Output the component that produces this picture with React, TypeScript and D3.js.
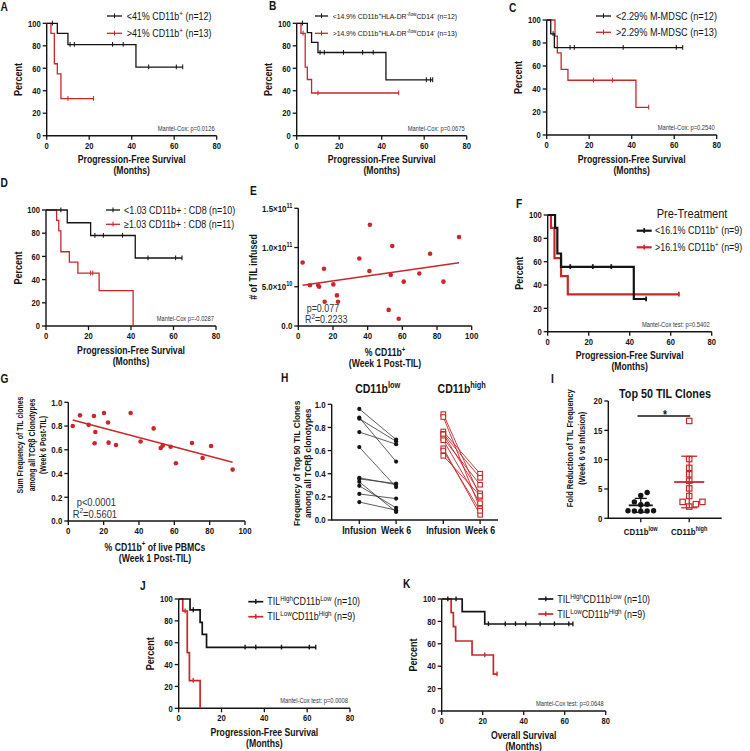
import React from 'react';
import * as d3 from 'd3';

const FONT = "'Liberation Sans', Arial, Helvetica, sans-serif";
const RED = '#c8282c';
const INK = '#141414';
const GREY = '#333';
const SX = 0.85; // the figure uses a narrow sans, squeeze text along its baseline

// ---------- Kaplan-Meier data: step times (months), survival (%), censor marks ----------
const kmXTicks = [0, 20, 40, 60, 80];
const kmYTicks = [0, 20, 40, 60, 80, 100];

const aLowT = [0, 5, 10, 42, 64];
const aLowS = [100, 91, 81, 61, 61];
const aLowC = [2.7, 11, 13, 31, 36, 48, 61, 64];
const aHighT = [0, 2, 3.6, 5, 6.7, 22];
const aHighS = [100, 91, 64, 55, 33, 33];
const aHighC = [10, 22];
const aLegend = ['<41% CD11b^{+} (n=12)', '>41% CD11b^{+} (n=13)'];
const aP = 'Mantel-Cox: p=0.0126';

const bLowT = [0, 5, 7, 10, 42, 64];
const bLowS = [100, 91.7, 83, 74, 49.6, 49.6];
const bLowC = [2.7, 11, 13, 22, 31, 36, 61, 63, 64];
const bHighT = [0, 2, 4, 5, 7, 48];
const bHighS = [100, 91, 61, 50, 38, 38];
const bHighC = [3, 10, 48];
const bLegend = ['<14.9% CD11b^{+}HLA-DR^{-/low}CD14^{-} (n=12)', '>14.9% CD11b^{+}HLA-DR^{-/low}CD14^{-} (n=13)'];
const bP = 'Mantel-Cox: p=0.0675';

const cLowT = [0, 1.9, 3.6, 64];
const cLowS = [100, 88, 76, 76];
const cLowC = [3, 11, 13, 36, 61, 64];
const cHighT = [0, 3.9, 5, 6.8, 10, 42, 48];
const cHighS = [100, 86, 71.5, 57, 47.6, 24, 24];
const cHighC = [22, 31, 48];
const cLegend = ['<2.29% M-MDSC (n=12)', '>2.29% M-MDSC (n=13)'];
const cP = 'Mantel-Cox: p=0.2540';

const dLowT = [0, 10, 21, 42, 64];
const dLowS = [100, 89, 78, 58.6, 58.6];
const dLowC = [7, 23, 27, 36, 48, 61, 64];
const dHighT = [0, 5, 6, 7, 11, 15, 25, 41];
const dHighS = [100, 91, 82, 64, 55, 45.5, 30.5, 0];
const dHighC = [21, 22];
const dLegend = ['<1.03 CD11b+ : CD8 (n=10)', '\u22651.03 CD11b+ : CD8 (n=11)'];
const dP = 'Mantel-Cox p=-0.0287';

const fLowT = [0, 3.6, 4.7, 6.5, 42, 48];
const fLowS = [100, 89, 67, 55.6, 28, 28];
const fLowC = [11, 22, 31, 48];
const fHighT = [0, 1.6, 3.3, 6.5, 9.8, 64];
const fHighS = [100, 89, 63, 47.7, 32, 32];
const fHighC = [64];
const fLegend = ['<16.1% CD11b^{+} (n=9)', '>16.1% CD11b^{+} (n=9)'];
const fP = 'Mantel-Cox test: p=0.5402';

const jLowT = [0, 5.3, 10, 11, 13, 64];
const jLowS = [100, 90, 78.7, 67.7, 55.8, 55.8];
const jLowC = [6.8, 31, 36, 48, 61, 64];
const jHighT = [0, 1.9, 4, 5, 10];
const jHighS = [100, 89, 51, 25.3, 0];
const jHighC = [3, 6.8];
const jkLegend = ['TIL^{High}CD11b^{Low} (n=10)', 'TIL^{Low}CD11b^{High} (n=9)'];
const jP = 'Mantel-Cox test: p=0.0008';

const kLowT = [0, 10, 21, 64];
const kLowS = [100, 88.7, 77.7, 77.7];
const kLowC = [3, 7, 22.8, 31, 36, 41, 48, 55, 62, 64];
const kHighT = [0, 4.6, 5.7, 6.8, 14.8, 25.2, 27];
const kHighS = [100, 87.8, 75.3, 62.5, 50, 33, 33];
const kHighC = [21, 27];
const kP = 'Mantel-Cox test: p=0.0648';

// ---------- E: TIL infused vs % CD11b+ ----------
const eX = [2.5, 6.7, 11.5, 12, 14.8, 15.2, 20.2, 22.3, 22.9, 35.2, 41.3, 41, 52.1, 53.3, 54.2, 57.9, 60.8, 69.8, 76, 83.7, 92.7];
const eY = [8.1, 5.2, 5.2, 5.0, 7.3, 3.1, 5.3, 3.9, 3.1, 8.6, 12.9, 7.0, 2.05, 6.5, 10.2, 0.93, 5.65, 6.7, 9.2, 5.65, 11.35]; // x10^10
const eYTicks = [0, 5, 10, 15];
const eYLabels = ['0.0', '5.0\u00d710^{10}', '1.0\u00d710^{11}', '1.5\u00d710^{11}'];
const eFitA = 5.12;
const eFitB = 0.0316;
const eStats = ['p=0.077', 'R^{2}=0.2233'];

// ---------- G: sum frequency vs % CD11b+ ----------
const gX = [2.5, 6.6, 11.5, 14.5, 15.3, 14.9, 20.2, 22.5, 22.8, 27, 35.3, 40.9, 48.3, 52.3, 53.4, 57.9, 60.9, 70, 76, 80.8, 93];
const gY = [0.8, 0.89, 0.81, 0.885, 0.75, 0.655, 0.91, 0.83, 0.66, 0.64, 0.91, 0.67, 0.78, 0.615, 0.635, 0.625, 0.486, 0.657, 0.531, 0.632, 0.433];
const gYTicks = [0, 0.2, 0.4, 0.6, 0.8, 1.0];
const gFitA = 0.861;
const gFitB = -0.00393;
const gStats = ['p<0.0001', 'R^{2}=0.5601'];
const sXTicks = [0, 20, 40, 60, 80, 100];

// ---------- H: top 50 clone frequency, infusion -> week 6 ----------
const hGroups = ['CD11b^{low}', 'CD11b^{high}'];
const hTimes = ['Infusion', 'Week 6'];
const hLowInf = [0.96, 0.885, 0.875, 0.76, 0.63, 0.365, 0.355, 0.33, 0.295, 0.225, 0.155];
const hLowW6 = [0.695, 0.505, 0.68, 0.655, 0.285, 0.305, 0.315, 0.07, 0.105, 0.185, 0.085];
const hHighInf = [0.915, 0.89, 0.765, 0.745, 0.74, 0.705, 0.69, 0.62, 0.6, 0.555];
const hHighW6 = [0.2, 0.1, 0.4, 0.365, 0.23, 0.305, 0.145, 0.045, 0.08, 0.21];

// ---------- I: fold reduction ----------
const iLow = [4.4, 3.9, 2.8, 2.4, 2.3, 1.3, 1.25, 1.2, 1.25, 1.3];
const iHigh = [16.6, 10.1, 8.6, 7.5, 6.4, 5.1, 3.8, 2.8, 2.8, 2.0, 2.4];
const iYTicks = [0, 5, 10, 15, 20];

// ---------- helpers ----------
function rich(s: string, size: number) {
  const parts = s.split(/(\^\{[^}]*\})/).filter(p => p !== '');
  let up = false;
  return parts.map((p, i) => {
    if (p.startsWith('^{')) {
      const el = <tspan key={i} fontSize={size * 0.7} dy={-size * 0.4}>{p.slice(2, -1)}</tspan>;
      up = true;
      return el;
    }
    const el = <tspan key={i} dy={up ? size * 0.4 : 0}>{p}</tspan>;
    up = false;
    return el;
  });
}

function T({ x, y, s, size, bold = false, anchor = 'start', rot = 0, fill = INK }: any) {
  return (
    <text
      transform={`translate(${x},${y})${rot ? ` rotate(${rot})` : ''} scale(${SX},1)`}
      fontSize={size}
      fontWeight={bold ? 700 : 400}
      textAnchor={anchor}
      fill={fill}
      fontFamily={FONT}
    >
      {rich(String(s), size)}
    </text>
  );
}

// left + bottom axis, Prism style
function Frame({ x, y, x0, x1, yT, yB, xTicks, yTicks, xFmt, yFmt, size = 9, xTickY }: any) {
  return (
    <g>
      <line x1={x0} x2={x0} y1={yT} y2={yB} stroke={INK} strokeWidth={1.4} />
      <line x1={x0 - 0.7} x2={x1} y1={yB} y2={yB} stroke={INK} strokeWidth={1.4} />
      {yTicks.map((v: number, i: number) => (
        <g key={'y' + i}>
          <line x1={x0 - 4} x2={x0} y1={y(v)} y2={y(v)} stroke={INK} strokeWidth={1.3} />
          <T x={x0 - 6} y={y(v) + size * 0.36} s={yFmt(v, i)} size={size} bold anchor="end" />
        </g>
      ))}
      {xTicks.map((v: any, i: number) => (
        <g key={'x' + i}>
          <line x1={x(v)} x2={x(v)} y1={yB} y2={yB + 4} stroke={INK} strokeWidth={1.3} />
          {xFmt && <T x={x(v)} y={xTickY ?? yB + 4 + size} s={xFmt(v, i)} size={size} bold anchor="middle" />}
        </g>
      ))}
    </g>
  );
}

function survAt(t: number[], s: number[], tc: number) {
  let v = s[0];
  t.forEach((ti, i) => { if (ti <= tc) v = s[i]; });
  return v;
}

function KM({ box, curves, sw, leg, labels, p, xTitle = 'Progression-Free Survival', letter }: any) {
  const [x0, x1, yT, yB] = box;
  const x = d3.scaleLinear().domain([0, 80]).range([x0, x1]);
  const y = d3.scaleLinear().domain([0, 100]).range([yB, yT]);
  const line = d3.line<number[]>().x(d => x(d[0])).y(d => y(d[1])).curve(d3.curveStepAfter);
  const tw = Math.max(1, sw * 0.8);
  return (
    <g>
      <Frame x={x} y={y} x0={x0} x1={x1} yT={yT} yB={yB} xTicks={kmXTicks} yTicks={kmYTicks} xFmt={(v: number) => v} yFmt={(v: number) => v} />
      {[...curves].reverse().map((c: any, i: number) => (
        <g key={i}>
          <path d={line(c.t.map((t: number, j: number) => [t, c.s[j]])) as string} fill="none" stroke={c.color} strokeWidth={sw} />
          {c.c.map((tc: number, j: number) => {
            const v = survAt(c.t, c.s, tc);
            return <line key={j} x1={x(tc)} x2={x(tc)} y1={y(v) - 2.6} y2={y(v) + 2.2} stroke={c.color} strokeWidth={tw} />;
          })}
        </g>
      ))}
      {labels.map((lab: string, i: number) => {
        const ly = leg.ys[i];
        const col = curves[i].color;
        return (
          <g key={'l' + i}>
            <line x1={leg.x1} x2={leg.x2} y1={ly} y2={ly} stroke={col} strokeWidth={sw} />
            <line x1={(leg.x1 + leg.x2) / 2} x2={(leg.x1 + leg.x2) / 2} y1={ly - 2.6} y2={ly + 2.2} stroke={col} strokeWidth={tw} />
            <T x={leg.tx} y={ly + leg.size * 0.36} s={lab} size={leg.size} />
          </g>
        );
      })}
      <T x={x1 - 2} y={yB - 5} s={p} size={6.8} anchor="end" fill={GREY} />
      <T x={(x0 + x1) / 2} y={yB + 27.6} s={xTitle} size={10.2} bold anchor="middle" />
      <T x={(x0 + x1) / 2} y={yB + 38.6} s="(Months)" size={10.2} bold anchor="middle" />
      <T x={x0 - 24.5} y={(yT + yB) / 2} s="Percent" size={10.6} bold anchor="middle" rot={-90} />
      <T x={letter[0]} y={letter[1]} s={letter[2]} size={12} bold />
    </g>
  );
}

function Scatter({ box, xs, ys, yMax, yTicks, yFmt, fitA, fitB, stats, statY, statX, statSize, letter, children }: any) {
  const [x0, x1, yT, yB] = box;
  const x = d3.scaleLinear().domain([0, 100]).range([x0, x1]);
  const y = d3.scaleLinear().domain([0, yMax]).range([yB, yT]);
  const [lo, hi] = d3.extent(xs) as [number, number];
  return (
    <g>
      <Frame x={x} y={y} x0={x0} x1={x1} yT={yT} yB={yB} xTicks={sXTicks} yTicks={yTicks} xFmt={(v: number) => v} yFmt={yFmt} size={9.3} />
      <line x1={x(lo)} x2={x(hi)} y1={y(fitA + fitB * lo)} y2={y(fitA + fitB * hi)} stroke={RED} strokeWidth={1.5} />
      {xs.map((v: number, i: number) => (
        <circle key={i} cx={x(v)} cy={y(ys[i])} r={2.3} fill={RED} />
      ))}
      <T x={x0 + statX[0]} y={statY[0]} s={stats[0]} size={statSize} fill={GREY} />
      <T x={x0 + statX[1]} y={statY[1]} s={stats[1]} size={statSize} fill={GREY} />
      <T x={letter[0]} y={letter[1]} s={letter[2]} size={12} bold />
      {children}
    </g>
  );
}

function PanelH() {
  const x0 = 331.7, xEnd = 498, yT = 404.3, yB = 520;
  const y = d3.scaleLinear().domain([0, 1]).range([yB, yT]);
  const grp = d3.scaleBand().domain(hGroups).range([335.7, 503.7]);
  const tp = d3.scalePoint().domain(hTimes).range([-18.4, 18.4]);
  const cx = (g: string, t: string) => (grp(g) as number) + grp.bandwidth() / 2 + (tp(t) as number);
  const ticks = hGroups.flatMap(g => hTimes.map(t => ({ g, t })));
  const sq = 4.6;
  return (
    <g>
      <line x1={x0} x2={x0} y1={yT} y2={yB} stroke={INK} strokeWidth={1.4} />
      <line x1={x0 - 0.7} x2={xEnd} y1={yB} y2={yB} stroke={INK} strokeWidth={1.4} />
      {gYTicks.map((v, i) => (
        <g key={i}>
          <line x1={x0 - 4} x2={x0} y1={y(v)} y2={y(v)} stroke={INK} strokeWidth={1.3} />
          <T x={x0 - 6} y={y(v) + 3.3} s={v.toFixed(1)} size={9.3} bold anchor="end" />
        </g>
      ))}
      {ticks.map((d, i) => (
        <g key={i}>
          <line x1={cx(d.g, d.t)} x2={cx(d.g, d.t)} y1={yB} y2={yB + 4} stroke={INK} strokeWidth={1.3} />
          <T x={cx(d.g, d.t)} y={yB + 14} s={d.t} size={10.4} bold anchor="middle" />
        </g>
      ))}
      {hGroups.map((g, i) => (
        <T key={i} x={(grp(g) as number) + grp.bandwidth() / 2} y={393} s={g} size={12.4} bold anchor="middle" />
      ))}
      {hLowInf.map((v, i) => (
        <line key={'lb' + i} x1={cx(hGroups[0], hTimes[0])} x2={cx(hGroups[0], hTimes[1])} y1={y(v)} y2={y(hLowW6[i])} stroke="#333" strokeWidth={0.8} />
      ))}
      {hLowInf.map((v, i) => (
        <g key={'pb' + i}>
          <circle cx={cx(hGroups[0], hTimes[0])} cy={y(v)} r={2.1} fill={INK} />
          <circle cx={cx(hGroups[0], hTimes[1])} cy={y(hLowW6[i])} r={2.1} fill={INK} />
        </g>
      ))}
      {hHighInf.map((v, i) => (
        <line key={'lr' + i} x1={cx(hGroups[1], hTimes[0])} x2={cx(hGroups[1], hTimes[1])} y1={y(v)} y2={y(hHighW6[i])} stroke={RED} strokeWidth={0.9} />
      ))}
      {hHighInf.map((v, i) => (
        <g key={'pr' + i}>
          <rect x={cx(hGroups[1], hTimes[0]) - sq / 2} y={y(v) - sq / 2} width={sq} height={sq} fill="white" stroke={RED} strokeWidth={1.1} />
          <rect x={cx(hGroups[1], hTimes[1]) - sq / 2} y={y(hHighW6[i]) - sq / 2} width={sq} height={sq} fill="white" stroke={RED} strokeWidth={1.1} />
        </g>
      ))}
      <T x={299.7} y={463.3} s="Frequency of Top 50 TIL Clones" size={9.8} bold anchor="middle" rot={-90} />
      <T x={311.3} y={463.3} s={'among all TCR\u03b2 clonotypes'} size={9.8} bold anchor="middle" rot={-90} />
      <T x={281} y={382} s="H" size={12} bold />
    </g>
  );
}

function swarm(vals: number[], y: (v: number) => number, cx: number, d: number) {
  const order = d3.range(vals.length).sort((a, b) => vals[a] - vals[b]);
  const placed: number[][] = [];
  const out: number[][] = new Array(vals.length);
  order.forEach(i => {
    const py = y(vals[i]);
    for (let k = 0; k < 40; k++) {
      const px = cx + Math.ceil(k / 2) * d * (k % 2 ? 1 : -1);
      if (placed.every(p => (p[0] - px) ** 2 + (p[1] - py) ** 2 >= d * d * 0.92)) {
        placed.push([px, py]);
        out[i] = [px, py];
        break;
      }
    }
  });
  return out;
}

function PanelI() {
  const x0 = 608.3, xEnd = 721.7, yT = 401, yB = 518.3;
  const y = d3.scaleLinear().domain([0, 20]).range([yB, yT]);
  const x = d3.scalePoint().domain(hGroups).range([x0, xEnd]).padding(0.67);
  const cL = x(hGroups[0]) as number;
  const cH = x(hGroups[1]) as number;
  const pL = swarm(iLow, y, cL, 6.4);
  const pH = swarm(iHigh, y, cH, 6.6);
  const stats = [
    { c: cL, m: d3.mean(iLow) as number, sd: d3.deviation(iLow) as number, col: INK, w: 12, cap: 6 },
    { c: cH, m: d3.mean(iHigh) as number, sd: d3.deviation(iHigh) as number, col: RED, w: 15, cap: 8 },
  ];
  const sq = 5.4;
  return (
    <g>
      <Frame x={x} y={y} x0={x0} x1={xEnd} yT={yT} yB={yB} xTicks={hGroups} yTicks={iYTicks} xFmt={(v: string) => v} yFmt={(v: number) => v} size={9.3} xTickY={yB + 16.5} />
      {stats.map((s, i) => (
        <g key={i} stroke={s.col} strokeWidth={1.3}>
          <line x1={s.c} x2={s.c} y1={y(s.m - s.sd)} y2={y(s.m + s.sd)} />
          <line x1={s.c - s.cap} x2={s.c + s.cap} y1={y(s.m + s.sd)} y2={y(s.m + s.sd)} />
          <line x1={s.c - s.cap} x2={s.c + s.cap} y1={y(s.m - s.sd)} y2={y(s.m - s.sd)} />
        </g>
      ))}
      {pL.map((p, i) => <circle key={'b' + i} cx={p[0]} cy={p[1]} r={2.7} fill={INK} />)}
      {pH.map((p, i) => (
        <rect key={'r' + i} x={p[0] - sq / 2} y={p[1] - sq / 2} width={sq} height={sq} fill="none" stroke={RED} strokeWidth={1.2} />
      ))}
      {stats.map((s, i) => (
        <line key={'m' + i} x1={s.c - s.w} x2={s.c + s.w} y1={y(s.m)} y2={y(s.m)} stroke={s.col} strokeWidth={1.8} />
      ))}
      <line x1={cL - 3.3} x2={cH + 1} y1={416} y2={416} stroke={INK} strokeWidth={1.3} />
      <T x={(cL + cH) / 2} y={418.5} s="*" size={12} bold anchor="middle" />
      <T x={665} y={398} s="Top 50 TIL Clones" size={12.7} bold anchor="middle" />
      <T x={573} y={448.3} s="Fold Reduction of TIL Frequency" size={8.9} bold anchor="middle" rot={-90} />
      <T x={584.7} y={448.3} s="(Week 6 vs Infusion)" size={8.9} bold anchor="middle" rot={-90} />
      <T x={551} y={383} s="I" size={12} bold />
    </g>
  );
}

export default function App() {
  const km = (t: number[], s: number[], c: number[], color: string) => ({ t, s, c, color });
  return (
    <svg width={750} height={751} style={{ position: 'absolute', left: 0, top: 0, background: '#fff' }}>
      <rect width={750} height={751} fill="#fff" />
      <KM box={[46.7, 216.7, 23.3, 135.7]} sw={1.3} curves={[km(aLowT, aLowS, aLowC, INK), km(aHighT, aHighS, aHighC, RED)]}
        leg={{ x1: 107, x2: 122, tx: 126.7, ys: [16, 33.3], size: 10.5 }} labels={aLegend} p={aP} letter={[0.5, 11, 'A']} />
      <KM box={[296.7, 466.7, 23.3, 135.7]} sw={1.3} curves={[km(bLowT, bLowS, bLowC, INK), km(bHighT, bHighS, bHighC, RED)]}
        leg={{ x1: 315, x2: 328, tx: 332.7, ys: [16, 33.3], size: 8 }} labels={bLegend} p={bP} letter={[269, 10, 'B']} />
      <KM box={[546.7, 716.7, 20, 135]} sw={1.3} curves={[km(cLowT, cLowS, cLowC, INK), km(cHighT, cHighS, cHighC, RED)]}
        leg={{ x1: 596, x2: 611, tx: 616, ys: [16, 32.3], size: 10.8 }} labels={cLegend} p={cP} letter={[509, 12, 'C']} />
      <KM box={[46, 216, 210, 326]} sw={1.3} curves={[km(dLowT, dLowS, dLowC, INK), km(dHighT, dHighS, dHighC, RED)]}
        leg={{ x1: 106, x2: 120, tx: 124, ys: [210, 224.3], size: 10.5 }} labels={dLegend} p={dP} letter={[0.5, 187, 'D']} />
      <KM box={[547.7, 711.7, 215, 331.7]} sw={2.2} curves={[km(fLowT, fLowS, fLowC, INK), km(fHighT, fHighS, fHighC, RED)]}
        leg={{ x1: 636.7, x2: 651.7, tx: 655, ys: [230.7, 247.3], size: 10.5 }} labels={fLegend} p={fP} letter={[516, 208, 'F']} />
      <T x={656.7} y={218.3} s="Pre-Treatment" size={13} />
      <KM box={[178.7, 350, 599, 708.3]} sw={1.7} curves={[km(jLowT, jLowS, jLowC, INK), km(jHighT, jHighS, jHighC, RED)]}
        leg={{ x1: 248.3, x2: 263.3, tx: 267.3, ys: [601.7, 616.7], size: 10.5 }} labels={jkLegend} p={jP} letter={[140, 590, 'J']} />
      <KM box={[441.7, 605.7, 599, 711]} sw={1.7} curves={[km(kLowT, kLowS, kLowC, INK), km(kHighT, kHighS, kHighC, RED)]}
        leg={{ x1: 538.3, x2: 553.3, tx: 557.3, ys: [599, 614], size: 10.5 }} labels={jkLegend} p={kP} xTitle="Overall Survival" letter={[403, 588, 'K']} />

      <Scatter box={[298.3, 471.7, 208.3, 326]} xs={eX} ys={eY} yMax={15} yTicks={eYTicks} yFmt={(v: number, i: number) => eYLabels[i]}
        fitA={eFitA} fitB={eFitB} stats={eStats} statX={[8.4, 6.7]} statY={[311.7, 323.3]} statSize={10.5} letter={[250, 195, 'E']}>
        <T x={257.4} y={267} s="# of TIL infused" size={10.5} bold anchor="middle" rot={-90} />
        <T x={385} y={355.7} s="% CD11b^{+}" size={10.2} bold anchor="middle" />
        <T x={385} y={367} s="(Week 1 Post-TIL)" size={10.2} bold anchor="middle" />
      </Scatter>

      <Scatter box={[68.3, 245, 402.3, 521]} xs={gX} ys={gY} yMax={1} yTicks={gYTicks} yFmt={(v: number) => v.toFixed(1)}
        fitA={gFitA} fitB={gFitB} stats={gStats} statX={[8.4, 4.4]} statY={[505.7, 517.7]} statSize={11} letter={[0.5, 383, 'G']}>
        <T x={23} y={445} s="Sum Frequency of TIL clones" size={8.2} bold anchor="middle" rot={-90} />
        <T x={34.7} y={445} s={'among all TCR\u03b2 Clonotypes'} size={8.2} bold anchor="middle" rot={-90} />
        <T x={46.3} y={445} s="(Week 6 Post-TIL)" size={8.2} bold anchor="middle" rot={-90} />
        <T x={155} y={550.5} s="% CD11b^{+} of live PBMCs" size={10.2} bold anchor="middle" />
        <T x={155} y={562} s="(Week 1 Post-TIL)" size={10.2} bold anchor="middle" />
      </Scatter>

      <PanelH />
      <PanelI />
    </svg>
  );
}
